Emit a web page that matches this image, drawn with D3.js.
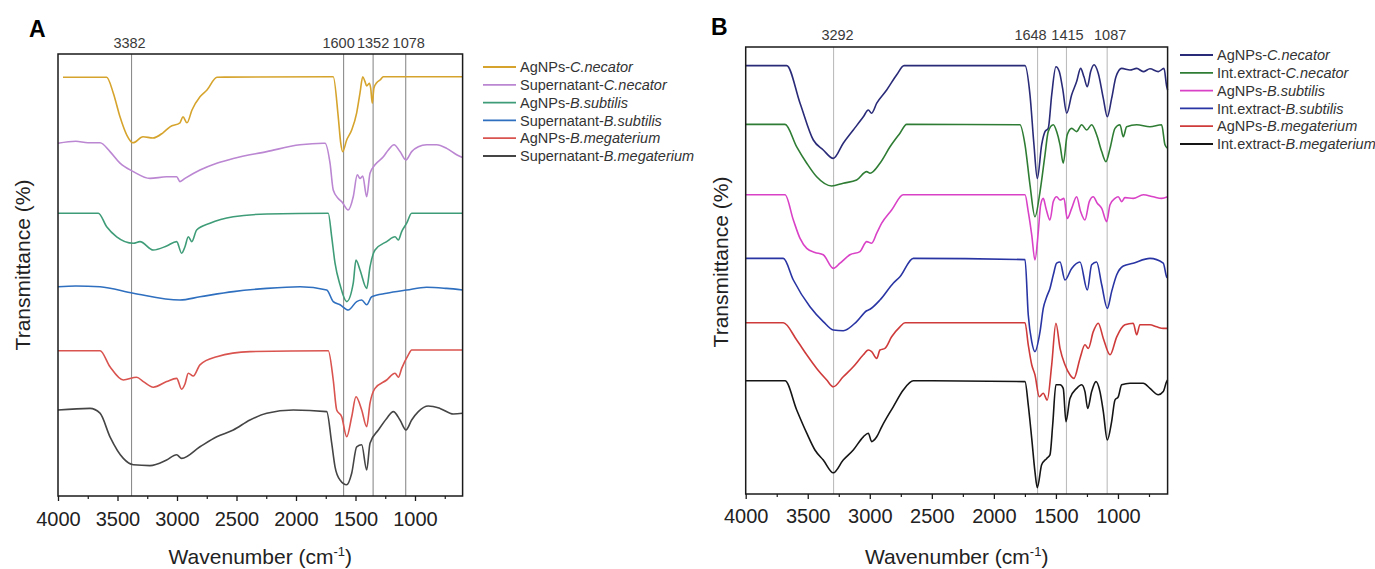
<!DOCTYPE html>
<html><head><meta charset="utf-8">
<script src="https://cdn.jsdelivr.net/npm/d3@7"></script>
<style>
body{margin:0;background:#fff}
svg{display:block}
text{font-family:"Liberation Sans",Arial,Helvetica,sans-serif}
</style>
</head><body>
<svg id="chart" width="1375" height="569"></svg>
<script>
// ---------------- DATA ----------------
const xMajorTicks = [4000, 3500, 3000, 2500, 2000, 1500, 1000];
const xMinorTicks = [3750, 3250, 2750, 2250, 1750, 1250, 750];
const xDomain = [4000, 600];

// Panel A peak markers
const peaksA = [3382, 1600, 1352, 1078];
// Panel B peak markers
const peaksB = [3292, 1648, 1415, 1087];

// Panel A legend labels [plain, italic]
const legendA = [["AgNPs-", "C.necator"], ["Supernatant-", "C.necator"], ["AgNPs-", "B.subtilis"],
                 ["Supernatant-", "B.subtilis"], ["AgNPs-", "B.megaterium"], ["Supernatant-", "B.megaterium"]];
const colorsA = ["#d6a42c", "#bb86d2", "#3f9c78", "#2f6fbf", "#d9534f", "#454545"];

const legendB = [["AgNPs-", "C.necator"], ["Int.extract-", "C.necator"], ["AgNPs-", "B.subtilis"],
                 ["Int.extract-", "B.subtilis"], ["AgNPs-", "B.megaterium"], ["Int.extract-", "B.megaterium"]];
const colorsB = ["#2a2b78", "#2f7d34", "#d942c6", "#2a35a4", "#cf3b3b", "#151515"];

// Offset transmittance (a.u.) vs wavenumber (cm-1) — Panel A
const aAgCn = [[3958,104.7],[3591,104.7],[3535,100.7],[3479,94.8],[3423,90.3],[3370,88.3],[3286,89.8],[3202,89.5],[3118,90.8],[3059,92.3],[2975,93.3],[2950,94.8],[2916,93.3],[2874,96.5],[2807,99.8],[2748,101.5],[2664,104.7],[1687,104.8],[1645,94.8],[1624,88.2],[1608,86.1],[1574,89],[1532,91.5],[1490,95.8],[1462,100.8],[1439,104.8],[1420,103.6],[1406,102.5],[1384,103.2],[1372,101.9],[1359,98.2],[1345,102],[1322,103.3],[1294,104],[1266,104.8],[600,104.8]];
const aSupCn = [[4000,88.2],[3850,88.7],[3750,88.3],[3647,88.3],[3563,86.1],[3479,83.2],[3367,81.1],[3227,79.4],[3087,79.8],[3003,79.8],[2975,78.6],[2933,79.4],[2807,81.5],[2666,83.2],[2527,84.4],[2246,86.1],[1966,87.8],[1771,88.2],[1756,88.2],[1714,83.2],[1687,76.5],[1645,74.4],[1616,73.6],[1561,71.5],[1519,74.8],[1485,80.3],[1462,79.4],[1439,80],[1406,74.8],[1378,80.7],[1336,82.8],[1266,84.8],[1224,86.5],[1176,87.8],[1126,86.1],[1076,84],[1028,86.1],[972,87.3],[902,87.8],[818,87.8],[734,86.9],[650,85.3],[600,84.6]];
const aAgBs = [[4000,70.7],[3661,70.7],[3591,67.3],[3507,64.8],[3367,63.2],[3311,63.6],[3199,61.5],[3087,62.5],[3003,63.6],[2961,60.7],[2933,62.3],[2905,64.8],[2876,63.6],[2835,66.5],[2723,68.2],[2527,69.8],[2246,70.5],[1729,70.7],[1700,64.8],[1672,58.2],[1630,52.8],[1574,48.6],[1519,53.2],[1496,59],[1462,56.5],[1406,51.9],[1378,57.3],[1336,61.5],[1238,63.6],[1168,64.8],[1140,64],[1112,66.1],[1070,68.2],[1028,70.7],[600,70.7]];
const aSupBs = [[4000,52.3],[3850,52.5],[3647,52.3],[3367,50.7],[2975,49],[2807,49.8],[2527,51.1],[2246,51.9],[1966,52.3],[1742,51.5],[1687,48.6],[1630,47.8],[1561,46.5],[1490,48.6],[1448,49],[1406,47.8],[1364,49.8],[1238,50.7],[1070,51.5],[902,52.2],[734,51.9],[600,51.5]];
const aAgBm = [[4000,36.3],[3647,36.3],[3563,32.3],[3451,29],[3339,29.7],[3283,28.6],[3199,27.2],[3087,28.6],[3003,29.4],[2961,26.7],[2933,28],[2905,30.7],[2863,30],[2807,32.8],[2666,34.8],[2387,36.1],[1729,36.3],[1687,29],[1658,21.5],[1616,19.8],[1574,14.8],[1532,19.8],[1496,24.8],[1448,21.5],[1406,17.3],[1378,23.2],[1336,26.9],[1238,29],[1168,30.7],[1140,29.7],[1112,31.9],[1056,35.3],[1028,36.5],[600,36.5]];
const aSupBm = [[4000,21.5],[3731,21.9],[3647,20.7],[3563,14.8],[3451,9.4],[3367,7.8],[3227,7.6],[3087,9],[3003,10.3],[2961,9.4],[2807,12.3],[2666,14.8],[2527,16.5],[2387,19],[2246,20.7],[2023,21.5],[1742,21.1],[1700,13.2],[1672,7.3],[1630,4],[1574,2.8],[1532,5.7],[1490,12.3],[1448,12.8],[1406,6.5],[1378,13.2],[1308,16.5],[1238,19.4],[1182,21.1],[1126,19],[1076,16.5],[1028,19],[972,21.1],[888,22.5],[790,21.9],[678,20.5],[600,20.7]];

// Panel B
const bAgCn = [[4000,107.1],[3670,107.1],[3562,97.7],[3455,88.5],[3375,86],[3294,83.9],[3214,87.7],[3133,91],[3052,94.3],[3012,96],[2985,95.2],[2944,97.7],[2864,101],[2783,104.8],[2724,107.1],[1749,107.1],[1709,99.8],[1677,87.3],[1650,78.9],[1615,87.3],[1588,90.6],[1562,91.4],[1534,99.8],[1500,106.8],[1473,105.6],[1446,101.4],[1413,95.2],[1373,99.8],[1333,103.1],[1301,106.4],[1274,104.3],[1247,101.8],[1220,105.6],[1193,107.3],[1159,105.2],[1118,98.9],[1086,94.3],[1051,98.9],[1016,104.3],[970,106.4],[903,106],[849,106.4],[796,105.6],[742,106.3],[675,105.6],[629,106.4],[608,102],[600,101]];
const bIntCn = [[4000,92.4],[3683,92.4],[3589,86.8],[3508,82.7],[3428,79.3],[3307,77],[3214,77.7],[3106,78.5],[3025,80.6],[2998,80.2],[2918,82.7],[2837,86.8],[2757,90.2],[2703,92.4],[1790,92.3],[1749,87.3],[1709,77.3],[1669,69.3],[1628,75.6],[1588,84.8],[1562,90.6],[1521,92.3],[1494,90.6],[1467,87.3],[1441,82.7],[1409,89.8],[1373,91.4],[1333,90.6],[1293,92.3],[1252,91],[1212,92.3],[1172,89.8],[1131,85.6],[1097,83.1],[1064,86.4],[1024,91.4],[984,92.3],[957,89.3],[930,91.8],[849,92.3],[742,91.8],[648,92.3],[621,87.3],[600,86.4]];
const bAgBs = [[4000,74.8],[3683,74.8],[3616,68.5],[3562,63.9],[3508,61.4],[3442,60.4],[3375,59.8],[3294,56.4],[3240,57.7],[3160,59.8],[3079,60.6],[3025,63.1],[2985,62.7],[2944,65.2],[2904,67.7],[2824,71],[2730,74.8],[1749,74.8],[1723,70.6],[1695,64.8],[1669,58.5],[1642,65.6],[1623,72.3],[1602,73.9],[1580,71.4],[1548,68.5],[1521,73.1],[1494,74.3],[1467,73.5],[1435,73.9],[1409,68.9],[1373,71.4],[1333,74.3],[1301,70.6],[1266,68.5],[1231,73.1],[1199,74.3],[1167,72.7],[1131,71.4],[1091,68.1],[1064,72.3],[1024,73.9],[998,74.3],[970,73.1],[944,74.1],[877,73.9],[796,74.8],[716,74.3],[648,73.9],[600,74.3]];
const bIntBs = [[4000,58.9],[3697,58.9],[3616,53.5],[3482,46.8],[3375,43.1],[3294,41],[3214,40.8],[3106,43.1],[3025,45.8],[2998,46.2],[2918,48.5],[2811,52.7],[2757,54.3],[2649,58.9],[1749,58.6],[1723,44.8],[1695,38.1],[1669,35.6],[1628,40.6],[1602,46.4],[1574,49.3],[1548,51.4],[1521,54.8],[1494,57.7],[1467,58],[1427,53.5],[1373,56.4],[1306,58],[1247,51],[1212,57.3],[1172,58],[1131,52.3],[1086,46.4],[1051,50.6],[1010,54.8],[957,57],[877,57.7],[742,58.9],[635,57.7],[608,54.3],[600,54]];
const bAgBm = [[4000,42.8],[3697,42.8],[3589,38.5],[3508,34.8],[3428,31.4],[3347,28.5],[3294,26.8],[3214,29.3],[3133,31.8],[3052,34.8],[3012,36],[2985,35.6],[2944,33.9],[2918,36],[2878,36.4],[2824,39.3],[2757,41.8],[2716,42.8],[1749,42.8],[1723,37.3],[1695,32.3],[1669,29.8],[1634,24.3],[1602,25.2],[1570,23.5],[1534,32.3],[1500,42.7],[1467,36.4],[1427,32.3],[1387,29.8],[1355,28.9],[1306,33.9],[1266,37.3],[1239,36.4],[1199,40.6],[1159,42.7],[1118,38.9],[1064,34.8],[1010,39.3],[944,42.3],[877,42.7],[849,39.8],[823,42.3],[742,42.3],[688,41.8],[635,41.4],[600,41.4]];
const bIntBm = [[4000,28.3],[3683,28.3],[3589,21],[3508,15.2],[3442,11],[3375,8.5],[3294,5.3],[3214,8.5],[3133,11],[3052,14.3],[3012,15.2],[2985,13.1],[2944,14.3],[2904,16.8],[2811,21.8],[2730,26],[2649,28.3],[1749,28.1],[1723,22.3],[1695,13.9],[1669,5.6],[1650,1.6],[1615,7.3],[1574,8.9],[1548,9.8],[1526,17.3],[1500,27.3],[1467,27.3],[1441,26.4],[1419,18.1],[1387,23.9],[1333,26.4],[1293,27.3],[1266,25.6],[1244,21.4],[1212,25.6],[1177,28.1],[1145,25.6],[1118,20.6],[1086,13.5],[1051,18.1],[1024,23.5],[998,24.3],[970,27.3],[903,27.7],[796,27.7],[742,26.4],[675,24.8],[635,25.6],[608,28.1],[600,28.5]];

const seriesA = [aAgCn, aSupCn, aAgBs, aSupBs, aAgBm, aSupBm];
const seriesB = [bAgCn, bIntCn, bAgBs, bIntBs, bAgBm, bIntBm];

// ---------------- DRAWING ----------------
const svg = d3.select("#chart");

function drawPanel(cfg) {
  const g = svg.append("g");
  const x = d3.scaleLinear().domain(xDomain).range([cfg.left, cfg.right]);
  const y = d3.scaleLinear().domain(cfg.yDomain).range([cfg.bottom, cfg.top]);

  // reference lines
  g.selectAll("line.peak").data(cfg.peaks).join("line")
    .attr("class", "peak")
    .attr("x1", d => x(d)).attr("x2", d => x(d))
    .attr("y1", cfg.top).attr("y2", cfg.bottom)
    .attr("stroke", cfg.peakColor).attr("stroke-width", 1.1);

  g.selectAll("text.peak").data(cfg.peaks).join("text")
    .attr("class", "peak")
    .attr("x", (d, i) => x(d) + cfg.peakNudge[i])
    .attr("y", cfg.peakLabelY)
    .attr("text-anchor", "middle")
    .attr("font-size", 14.5)
    .attr("fill", "#3a3a3a")
    .text(d => d);

  // spectra
  const line = d3.line().x(d => x(d[0])).y(d => y(d[1])).curve(d3.curveMonotoneX);
  g.selectAll("path.spec").data(cfg.series).join("path")
    .attr("class", "spec")
    .attr("d", d => line(d))
    .attr("fill", "none")
    .attr("stroke", (d, i) => cfg.colors[i])
    .attr("stroke-width", 1.6)
    .attr("stroke-linejoin", "round");

  // frame
  g.append("rect")
    .attr("x", cfg.left).attr("y", cfg.top)
    .attr("width", cfg.right - cfg.left).attr("height", cfg.bottom - cfg.top)
    .attr("fill", "none").attr("stroke", "#1a1a1a").attr("stroke-width", 1.5);

  // x axis major
  const ax = g.append("g").attr("transform", `translate(0,${cfg.bottom})`)
    .call(d3.axisBottom(x).tickValues(xMajorTicks).tickSize(5).tickPadding(cfg.tickPad).tickFormat(d3.format("d")));
  ax.select(".domain").remove();
  ax.selectAll("line").attr("stroke", "#1a1a1a").attr("stroke-width", 1.3);
  ax.selectAll("text").attr("font-size", 20).attr("fill", "#222")
    .attr("font-family", '"Liberation Sans",Arial,sans-serif');
  // x axis minor
  const axm = g.append("g").attr("transform", `translate(0,${cfg.bottom})`)
    .call(d3.axisBottom(x).tickValues(xMinorTicks).tickSize(3).tickFormat(""));
  axm.select(".domain").remove();
  axm.selectAll("line").attr("stroke", "#1a1a1a").attr("stroke-width", 1.2);

  // axis titles
  const xt = g.append("text")
    .attr("x", (cfg.left + cfg.right) / 2 + cfg.xTitleDx).attr("y", 564)
    .attr("text-anchor", "middle").attr("font-size", 21).attr("fill", "#222");
  xt.append("tspan").text("Wavenumber (cm");
  xt.append("tspan").attr("dy", -8).attr("font-size", 13).text("-1");
  xt.append("tspan").attr("dy", 8).text(")");

  g.append("text")
    .attr("transform", `translate(${cfg.yTitleX},${cfg.yTitleY}) rotate(-90)`)
    .attr("text-anchor", "middle").attr("font-size", 21).attr("fill", "#222")
    .text("Transmittance (%)");

  // panel letter
  g.append("text").attr("x", cfg.letterX).attr("y", cfg.letterY)
    .attr("font-size", 23).attr("font-weight", "bold").attr("fill", "#000")
    .text(cfg.letter);

  // legend
  const lg = g.append("g");
  const rows = lg.selectAll("g").data(cfg.legend).join("g")
    .attr("transform", (d, i) => `translate(${cfg.legX},${cfg.legY + i * 17.8})`);
  rows.append("line").attr("x1", 0).attr("x2", 33).attr("y1", 0).attr("y2", 0)
    .attr("stroke", (d, i) => cfg.colors[i]).attr("stroke-width", 1.8);
  const t = rows.append("text").attr("x", 37).attr("y", 0).attr("dy", "0.36em")
    .attr("font-size", 14.5).attr("fill", "#333");
  t.append("tspan").text(d => d[0]);
  t.append("tspan").attr("font-style", "italic").text(d => d[1]);
}

drawPanel({
  left: 58, right: 462.6, top: 54, bottom: 496,
  yDomain: [0, 110.5],
  series: seriesA, colors: colorsA, legend: legendA,
  peaks: peaksA, peakNudge: [-2, -5, 0, 3], peakLabelY: 48, peakColor: "#8c8c8c",
  tickPad: 11, xTitleDx: 0, yTitleX: 30, yTitleY: 265,
  letter: "A", letterX: 29, letterY: 37,
  legX: 483, legY: 67
});

drawPanel({
  left: 745.7, right: 1167.6, top: 47, bottom: 494,
  yDomain: [0, 111.75],
  series: seriesB, colors: colorsB, legend: legendB,
  peaks: peaksB, peakNudge: [4, -7, 1, 3], peakLabelY: 40, peakColor: "#bdbdbd",
  tickPad: 10, xTitleDx: 0, yTitleX: 728, yTitleY: 262,
  letter: "B", letterX: 711, letterY: 35,
  legX: 1180, legY: 55
});
</script>
</body></html>
